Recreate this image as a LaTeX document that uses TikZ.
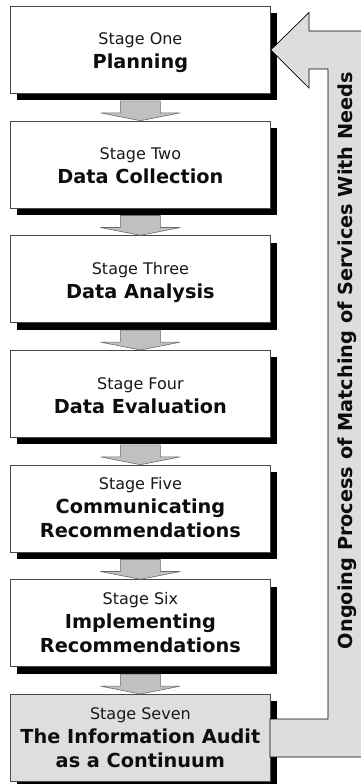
\documentclass[tikz,border=0pt]{standalone}
\usepackage{fontspec}
\setmainfont{DejaVu Sans}
\usetikzlibrary{calc,shadows}
\definecolor{boxline}{HTML}{4A4A4A}
\definecolor{arrowfill}{HTML}{C0C0C0}
\definecolor{arrowline}{HTML}{6A6A6A}
\definecolor{lastfill}{HTML}{DEDEDE}
\definecolor{loopfill}{HTML}{DDDDDD}
\tikzset{
  stagebox/.style={draw=boxline, line width=0.8pt, fill=white, minimum width=260pt, minimum height=87pt, inner sep=0pt, anchor=north west,
    drop shadow={shadow xshift=7pt, shadow yshift=-7pt, fill=black, opacity=1}},
  stg/.style={anchor=base, inner sep=0pt, font=\fontsize{16}{19}\selectfont, text=black!90},
  ttl/.style={anchor=base, inner sep=0pt, font=\fontsize{19.3}{23}\selectfont\bfseries, text=black!95},
  downarrow/.style={draw=arrowline, fill=arrowfill, line width=0.6pt, line join=miter},
  looparrow/.style={draw=black, fill=loopfill, line width=0.7pt, line join=miter}
}
\newcommand{\dnarrow}[2]{%
  \draw[downarrow] ($(#1.south)+(-20,7)$) -- ($(#1.south)+(-20,19)$) -- ($(#1.south)+(-40,19)$)
    -- (#2.north) -- ($(#1.south)+(40,19)$) -- ($(#1.south)+(20,19)$) -- ($(#1.south)+(20,7)$) -- cycle;}
\begin{document}
\begin{tikzpicture}[x=1pt,y=-1pt]
\useasboundingbox (0,0) rectangle (360,784);
\node[stagebox] (b1) at (10,6) {};
\node[stagebox] (b2) at (10,120.7) {};
\node[stagebox] (b3) at (10,235.3) {};
\node[stagebox] (b4) at (10,350) {};
\node[stagebox] (b5) at (10,464.7) {};
\node[stagebox] (b6) at (10,579.3) {};
\node[stagebox, fill=lastfill] (b7) at (10,694) {};
\dnarrow{b1}{b2}
\dnarrow{b2}{b3}
\dnarrow{b3}{b4}
\dnarrow{b4}{b5}
\dnarrow{b5}{b6}
\dnarrow{b6}{b7}
% text
\node[stg] (t1a) at ($(b1.north)+(0,39)$) {Stage One};
\node[ttl] (t1b) at ($(b1.north)+(0,63)$) {Planning};
\node[stg] (t2a) at ($(b2.north)+(0,39)$) {Stage Two};
\node[ttl] (t2b) at ($(b2.north)+(0,63)$) {Data Collection};
\node[stg] (t3a) at ($(b3.north)+(0,39)$) {Stage Three};
\node[ttl] (t3b) at ($(b3.north)+(0,63)$) {Data Analysis};
\node[stg] (t4a) at ($(b4.north)+(0,39)$) {Stage Four};
\node[ttl] (t4b) at ($(b4.north)+(0,63)$) {Data Evaluation};
\node[stg] (t5a) at ($(b5.north)+(0,25)$) {Stage Five};
\node[ttl] (t5b) at ($(b5.north)+(0,49)$) {Communicating};
\node[ttl] (t5c) at ($(b5.north)+(0,73)$) {Recommendations};
\node[stg] (t6a) at ($(b6.north)+(0,25)$) {Stage Six};
\node[ttl] (t6b) at ($(b6.north)+(0,49)$) {Implementing};
\node[ttl] (t6c) at ($(b6.north)+(0,73)$) {Recommendations};
\node[stg] (t7a) at ($(b7.north)+(0,25)$) {Stage Seven};
\node[ttl] (t7b) at ($(b7.north)+(0,49)$) {The Information Audit};
\node[ttl] (t7c) at ($(b7.north)+(0,73)$) {as a Continuum};
% feedback arrow
\draw[looparrow] (b1.east) -- (309,12.5) -- (309,31) -- (366,31) -- (366,757)
  -- (270,757) -- (270,719) -- (328,719) -- (328,69)
  -- (309,69) -- (309,88) -- cycle;
\node[rotate=90, inner sep=0pt, font=\fontsize{19.3}{23}\selectfont\bfseries, text=black!95] (loop) at (347,360.5) {Ongoing Process of Matching of Services With Needs};
\end{tikzpicture}
\end{document}
